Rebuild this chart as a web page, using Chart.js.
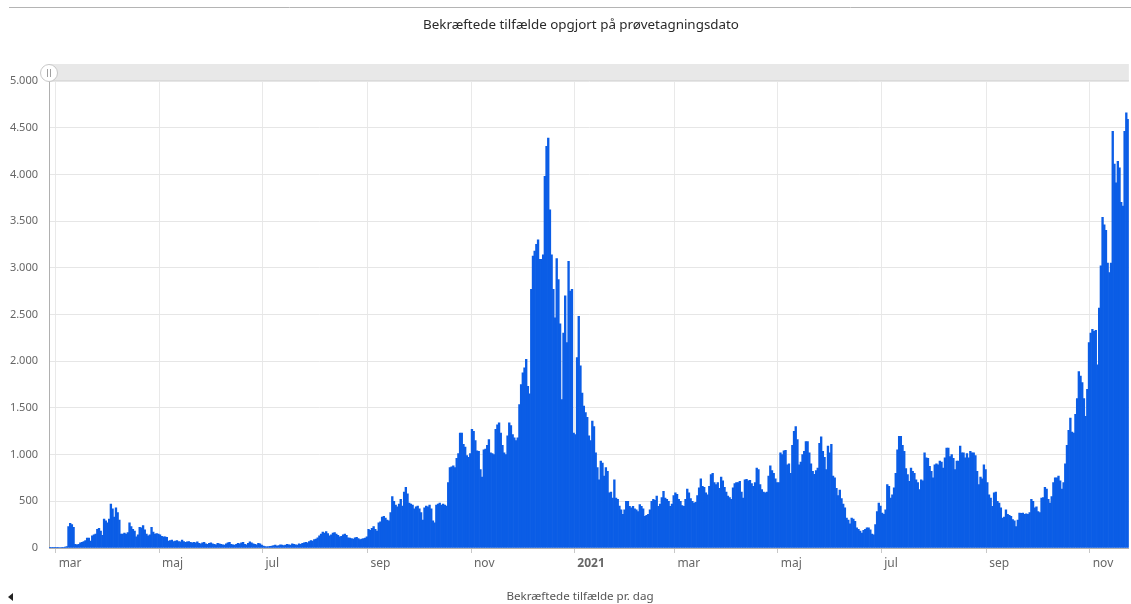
<!DOCTYPE html>
<html lang="da">
<head>
<meta charset="utf-8">
<title>Bekræftede tilfælde</title>
<script src="https://cdn.jsdelivr.net/npm/chart.js@4/dist/chart.umd.min.js"></script>
<style>
  html, body { margin: 0; padding: 0; background: #fff; }
  #wrap { width: 1131px; height: 604px; }
</style>
</head>
<body>
<div id="wrap"><canvas id="casesChart" width="1131" height="604"></canvas></div>
<script>
// Daily confirmed cases, one array per month
const feb2020 = [1, 1, 1, 3];
const mar2020 = [3, 2, 5, 8, 6, 10, 15, 230, 265, 250, 220, 40, 35, 40, 55, 60, 70, 80, 105, 105, 75, 130, 140, 150, 200, 210, 180, 135, 310, 290, 270];
const apr2020 = [310, 470, 420, 330, 430, 380, 300, 150, 150, 160, 150, 165, 270, 230, 200, 180, 120, 140, 220, 215, 240, 195, 150, 130, 140, 220, 170, 150, 155, 150];
const maj2020 = [140, 125, 120, 120, 115, 75, 80, 85, 70, 75, 80, 70, 65, 85, 70, 60, 65, 70, 60, 55, 60, 55, 65, 50, 45, 55, 60, 45, 40, 50, 55];
const jun2020 = [45, 40, 35, 50, 45, 40, 35, 30, 45, 55, 60, 40, 35, 30, 40, 50, 45, 55, 60, 40, 35, 50, 65, 55, 45, 40, 35, 50, 45, 30];
const jul2020 = [20, 15, 12, 15, 18, 20, 25, 30, 20, 25, 35, 30, 25, 30, 40, 35, 30, 45, 40, 35, 30, 45, 40, 50, 55, 60, 55, 70, 80, 75, 90];
const aug2020 = [95, 110, 130, 150, 170, 160, 175, 155, 130, 140, 160, 165, 150, 135, 120, 125, 140, 150, 135, 110, 105, 100, 95, 110, 115, 100, 90, 95, 100, 105, 120];
const sep2020 = [200, 190, 210, 230, 200, 180, 270, 280, 330, 340, 320, 300, 290, 380, 550, 500, 460, 440, 470, 520, 450, 600, 650, 580, 480, 470, 460, 420, 440, 450];
const okt2020 = [420, 380, 300, 430, 450, 440, 460, 420, 290, 270, 460, 470, 480, 460, 470, 460, 450, 700, 860, 870, 880, 860, 960, 1010, 1230, 1230, 1110, 1080, 990, 970, 1010];
const nov2020 = [1270, 1250, 1150, 1040, 1035, 840, 760, 1050, 1060, 1100, 1160, 1020, 1010, 1000, 1270, 1320, 1340, 1230, 1100, 1020, 1000, 1200, 1340, 1310, 1215, 1180, 1150, 1180, 1535, 1750];
const dec2020 = [1875, 1930, 2020, 1730, 1650, 2770, 3125, 3180, 3250, 3300, 3090, 3090, 3140, 3980, 4300, 4390, 3620, 3140, 2770, 2465, 3100, 2875, 2400, 1590, 2300, 2700, 2200, 3070, 2750, 2770, 1230];
const jan2021 = [1215, 2040, 2480, 1950, 1660, 1520, 1450, 1400, 1200, 1150, 1360, 1300, 1020, 860, 730, 930, 910, 770, 860, 820, 590, 600, 535, 730, 535, 520, 450, 410, 360, 410, 500];
const feb2021 = [500, 445, 430, 445, 420, 410, 390, 465, 445, 420, 340, 350, 360, 410, 500, 520, 510, 555, 445, 470, 540, 607, 535, 520, 500, 445, 470, 560];
const mar2021 = [590, 575, 520, 500, 455, 445, 520, 632, 590, 530, 500, 480, 490, 560, 643, 740, 660, 650, 590, 570, 660, 785, 800, 700, 680, 700, 640, 760, 720, 650, 600];
const apr2021 = [555, 540, 520, 643, 690, 700, 700, 715, 600, 535, 730, 735, 720, 725, 690, 660, 700, 857, 840, 680, 625, 600, 590, 600, 770, 880, 830, 800, 740, 700];
const maj2021 = [700, 1020, 1000, 1040, 1045, 890, 900, 800, 1100, 1250, 1300, 1160, 890, 920, 1000, 1035, 1140, 1140, 1020, 900, 820, 790, 830, 857, 1120, 1190, 1035, 970, 840, 1090, 1020];
const jun2021 = [1110, 770, 750, 640, 560, 620, 530, 470, 430, 320, 300, 260, 320, 310, 285, 215, 200, 180, 160, 190, 200, 215, 215, 195, 150, 140, 250, 390, 480, 450];
const jul2021 = [375, 360, 410, 680, 660, 535, 570, 643, 800, 1050, 1195, 1195, 1100, 1035, 850, 785, 715, 857, 820, 800, 730, 700, 625, 730, 720, 1020, 965, 960, 875, 820, 750];
const aug2021 = [890, 900, 890, 930, 920, 857, 965, 1070, 1070, 980, 1000, 960, 840, 930, 930, 1090, 1020, 1020, 965, 1010, 965, 1035, 1020, 1020, 990, 820, 680, 760, 740, 890, 840];
const sep2021 = [700, 570, 535, 445, 590, 600, 500, 480, 430, 320, 330, 410, 360, 350, 340, 305, 290, 230, 300, 375, 370, 375, 360, 365, 360, 380, 520, 500, 430, 440];
const okt2021 = [390, 380, 535, 540, 650, 630, 520, 480, 550, 700, 750, 750, 770, 720, 630, 700, 900, 1100, 1260, 1390, 1240, 1230, 1430, 1600, 1890, 1840, 1770, 1600, 1410, 1700, 2200];
const nov2021 = [2300, 2340, 2320, 2330, 1960, 2570, 3020, 3540, 3460, 3400, 3050, 2950, 3050, 4460, 4110, 3910, 4140, 4070, 3700, 3660, 4460, 4660, 4590];

const firstDay = '2020-02-26';

// Month ticks shown on the x axis
const tickDates = ['2020-03-01', '2020-05-01', '2020-07-01', '2020-09-01', '2020-11-01', '2021-01-01',
                   '2021-03-01', '2021-05-01', '2021-07-01', '2021-09-01', '2021-11-01'];
const tickLabels = ['mar', 'maj', 'jul', 'sep', 'nov', '2021', 'mar', 'maj', 'jul', 'sep', 'nov'];

const yMax = 5000;
const yStep = 500;

const chartTitle = 'Bekræftede tilfælde opgjort på prøvetagningsdato';
const seriesName = 'Bekræftede tilfælde pr. dag';

const values = [].concat(feb2020, mar2020, apr2020, maj2020, jun2020, jul2020, aug2020, sep2020, okt2020, nov2020, dec2020,
    jan2021, feb2021, mar2021, apr2021, maj2021, jun2021, jul2021, aug2021, sep2021, okt2021, nov2021);

// One category per day
const dates = [];
const start = new Date(firstDay + 'T00:00:00Z');
for (let i = 0; i < values.length; i++) {
    const d = new Date(start.getTime() + i * 86400000);
    dates.push(d.toISOString().split('T')[0]);
}

function formatThousands(v) {
    return String(v).replace(/\B(?=(\d{3})+(?!\d))/g, '.');
}

function tickLabelFor(index) {
    const pos = tickDates.indexOf(dates[index]);
    return pos >= 0 ? tickLabels[pos] : '';
}

const FONT = '"Noto Sans", "Open Sans", sans-serif';

// Frame pieces: top rule, title, scrollbar strip with grip, legend row
const framePlugin = {
    id: 'frame',
    beforeDraw(chart) {
        const ctx = chart.ctx;
        const area = chart.chartArea;
        ctx.save();
        ctx.strokeStyle = '#b4b4b4';
        ctx.lineWidth = 1;
        ctx.beginPath();
        ctx.moveTo(9, 7.5);
        ctx.lineTo(chart.width, 7.5);
        ctx.stroke();

        ctx.fillStyle = '#2a2a2a';
        ctx.font = '13.4px ' + FONT;
        ctx.textAlign = 'center';
        ctx.textBaseline = 'middle';
        ctx.fillText(chartTitle, 581, 25);

        ctx.fillStyle = '#e8e8e8';
        ctx.fillRect(area.left, area.top - 17, area.right - area.left, 17);
        ctx.strokeStyle = '#dadada';
        ctx.beginPath();
        ctx.moveTo(area.left, area.top - 0.5);
        ctx.lineTo(area.right, area.top - 0.5);
        ctx.stroke();
        ctx.restore();
    },
    afterDraw(chart) {
        const ctx = chart.ctx;
        const area = chart.chartArea;
        ctx.save();
        // grip
        const gx = area.left, gy = area.top - 8;
        ctx.fillStyle = '#ffffff';
        ctx.strokeStyle = '#c8c8c8';
        ctx.lineWidth = 1;
        ctx.beginPath();
        ctx.arc(gx, gy, 8.5, 0, Math.PI * 2);
        ctx.fill();
        ctx.stroke();
        ctx.strokeStyle = '#a0a0a0';
        ctx.beginPath();
        ctx.moveTo(gx - 1.5, gy - 4);
        ctx.lineTo(gx - 1.5, gy + 4);
        ctx.moveTo(gx + 1.5, gy - 4);
        ctx.lineTo(gx + 1.5, gy + 4);
        ctx.stroke();

        // legend row at the bottom
        ctx.fillStyle = '#222';
        ctx.beginPath();
        ctx.moveTo(8, chart.height - 7);
        ctx.lineTo(13, chart.height - 11);
        ctx.lineTo(13, chart.height - 3);
        ctx.closePath();
        ctx.fill();

        ctx.fillStyle = '#555';
        ctx.font = '11.6px ' + FONT;
        ctx.textAlign = 'center';
        ctx.textBaseline = 'middle';
        ctx.fillText(seriesName, 580, chart.height - 7);
        ctx.restore();
    }
};

const chart = new Chart(document.getElementById('casesChart').getContext('2d'), {
    type: 'bar',
    data: {
        labels: dates,
        datasets: [{
            label: seriesName,
            data: values,
            backgroundColor: '#0b5de6',
            borderWidth: 0,
            barPercentage: 1,
            categoryPercentage: 1
        }]
    },
    options: {
        responsive: false,
        animation: false,
        layout: { padding: { left: 0, right: 0, top: 81, bottom: 0 } },
        plugins: {
            legend: { display: false },
            tooltip: { enabled: false },
            title: { display: false }
        },
        scales: {
            x: {
                grid: {
                    offset: true,
                    color: (c) => (c.tick && tickLabelFor(c.tick.value) !== '') ? '#e9e9e9' : 'rgba(0,0,0,0)',
                    tickColor: (c) => (c.tick && tickLabelFor(c.tick.value) !== '') ? '#c8c8c8' : 'rgba(0,0,0,0)',
                    tickLength: 5
                },
                border: { display: true, color: '#b0b0b0' },
                ticks: {
                    autoSkip: false,
                    maxRotation: 0,
                    minRotation: 0,
                    align: 'start',
                    labelOffset: 2,
                    padding: 3,
                    color: '#666',
                    font: (c) => ({
                        family: FONT,
                        size: 12,
                        weight: (c.tick && c.tick.label === '2021') ? 'bold' : 'normal'
                    }),
                    callback: (val, i) => tickLabelFor(i)
                },
                afterFit: (scale) => { scale.height = 56; }
            },
            y: {
                min: 0,
                max: yMax,
                ticks: {
                    stepSize: yStep,
                    color: '#666',
                    padding: 11,
                    font: { family: FONT, size: 11 },
                    callback: (v) => formatThousands(v)
                },
                grid: { color: '#e6e6e6', drawTicks: false },
                border: { display: true, color: '#b0b0b0' },
                afterFit: (scale) => { scale.width = 49; }
            }
        }
    },
    plugins: [framePlugin]
});
</script>
</body>
</html>
